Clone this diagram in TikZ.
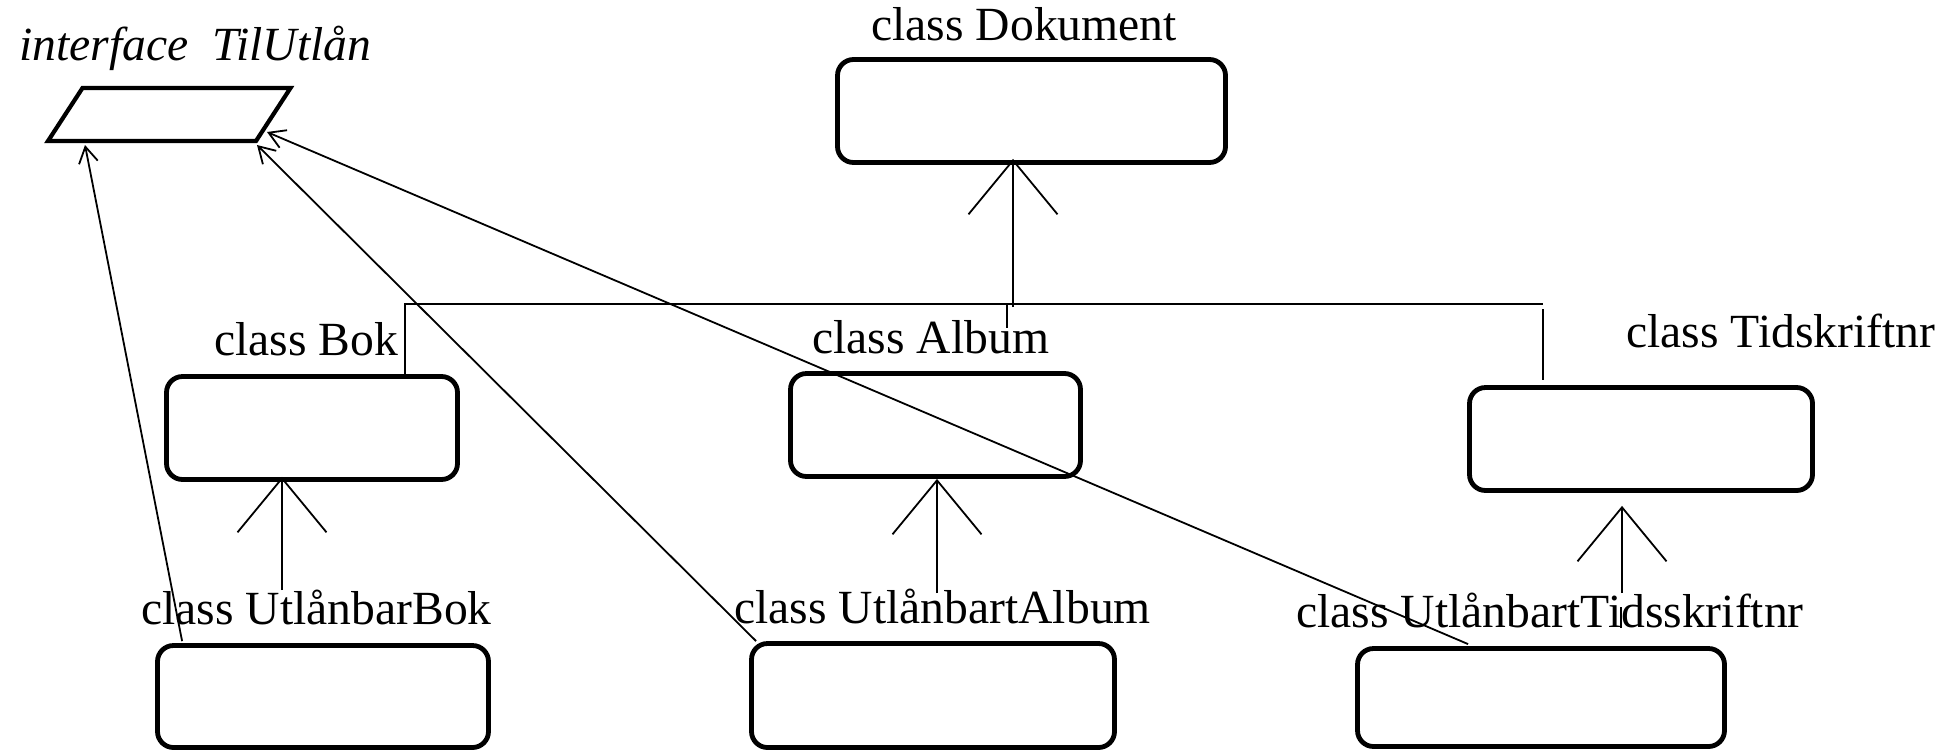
\documentclass[tikz,border=0pt]{standalone}
\usepackage{fontspec}
\setmainfont{Liberation Serif}
\usetikzlibrary{arrows.meta,calc}

\begin{document}
\begin{tikzpicture}[x=0.5pt,y=-0.5pt,
  classbox/.style={draw, line width=2.4pt, rounded corners=8pt, inner sep=0pt,
                   minimum height=51.5pt},
  title/.style={anchor=base west, inner sep=0pt,
                font=\fontsize{23.8pt}{28pt}\selectfont},
  thinline/.style={line width=0.9pt},
  gen/.style={thinline, -{Straight Barb[length=27pt, width=44.5pt]}},
  impl/.style={thinline, -{Straight Barb[length=8pt, width=9.5pt]}},
]
\useasboundingbox (0,0) rectangle (1954,751);

% interface shape (parallelogram)
\coordinate (ifTL) at (82.5,88);
\coordinate (ifTR) at (290.5,88);
\coordinate (ifBR) at (256,141);
\coordinate (ifBL) at (48,141);
\draw[line width=2.1pt, line join=miter] (ifTL) -- (ifTR) -- (ifBR) -- (ifBL) -- cycle;
\node[title, font=\fontsize{23.8pt}{28pt}\selectfont\itshape] (ifLbl) at (19,60) {interface~~TilUtlån};

% classes
\node[classbox, minimum width=194pt] (dok) at (1031.5,111) {};
\node[classbox, minimum width=145.5pt] (bok) at (312,428) {};
\node[classbox, minimum width=145pt] (alb) at (935.5,425) {};
\node[classbox, minimum width=171.5pt] (tid) at (1641,439) {};
\node[classbox, minimum width=165.5pt, minimum height=51pt] (ubok) at (323,696.5) {};
\node[classbox, minimum width=181.5pt, minimum height=52pt] (ualb) at (933,695.5) {};
\node[classbox, minimum width=183.5pt, minimum height=49pt] (utid) at (1541,697.5) {};

% class titles
\node[title] (dokLbl)  at (871,40)   {class Dokument};
\node[title] (bokLbl)  at (214,355)  {class Bok};
\node[title] (albLbl)  at (812,353)  {class Album};
\node[title] (tidLbl)  at (1626,347) {class Tidskriftnr};
\node[title] (ubokLbl) at (141,624)  {class UtlånbarBok};
\node[title] (ualbLbl) at (734,623)  {class UtlånbartAlbum};
\node[title] (utidLbl) at (1296,627) {class UtlånbartTidsskriftnr};

% inheritance bus below Dokument
\coordinate (busL) at (405,304);
\coordinate (busR) at (1543,304);
\coordinate (tidDrop) at (1543,309);
\draw[thinline] (busL |- bok.north) -- (busL) -- (busR);
\draw[thinline, shorten >=2.5pt] (tidDrop) -- (tidDrop |- tid.north);

% generalisation arrows
\coordinate (dokFoot) at (1013,307);
\draw[gen] (dokFoot) -- ($(dokFoot |- dok.south)+(0,-6)$);
\coordinate (tickTop) at (1007,305);
\coordinate (tickBot) at (1007,328);
\draw[thinline] (tickTop) -- (tickBot);

\coordinate (bokFoot) at (282,590);
\draw[gen] (bokFoot) -- ($(bokFoot |- bok.south)+(0,-5)$);

\coordinate (albFoot) at (937,593);
\draw[gen] (albFoot) -- (albFoot |- alb.south);

\coordinate (tidFoot) at (1622,593);
\draw[gen] (tidFoot) -- ($(tidFoot |- tid.south)+(0,13)$);
\coordinate (tick2Top) at (1621,607);
\coordinate (tick2Bot) at (1621,628);
\draw[thinline] (tick2Top) -- (tick2Bot);

% realisation arrows to the interface
\coordinate (tipA) at (85,145);
\coordinate (tipB) at (257,145);
\coordinate (tipC) at (267,132);
\draw[impl] ($(ubok.north west)+(27,-2)$) -- (tipA);
\draw[impl] ($(ualb.north west)+(7,0)$) -- (tipB);
\draw[impl] ($(utid.north west)+(113,-2)$) -- (tipC);
\end{tikzpicture}
\end{document}
